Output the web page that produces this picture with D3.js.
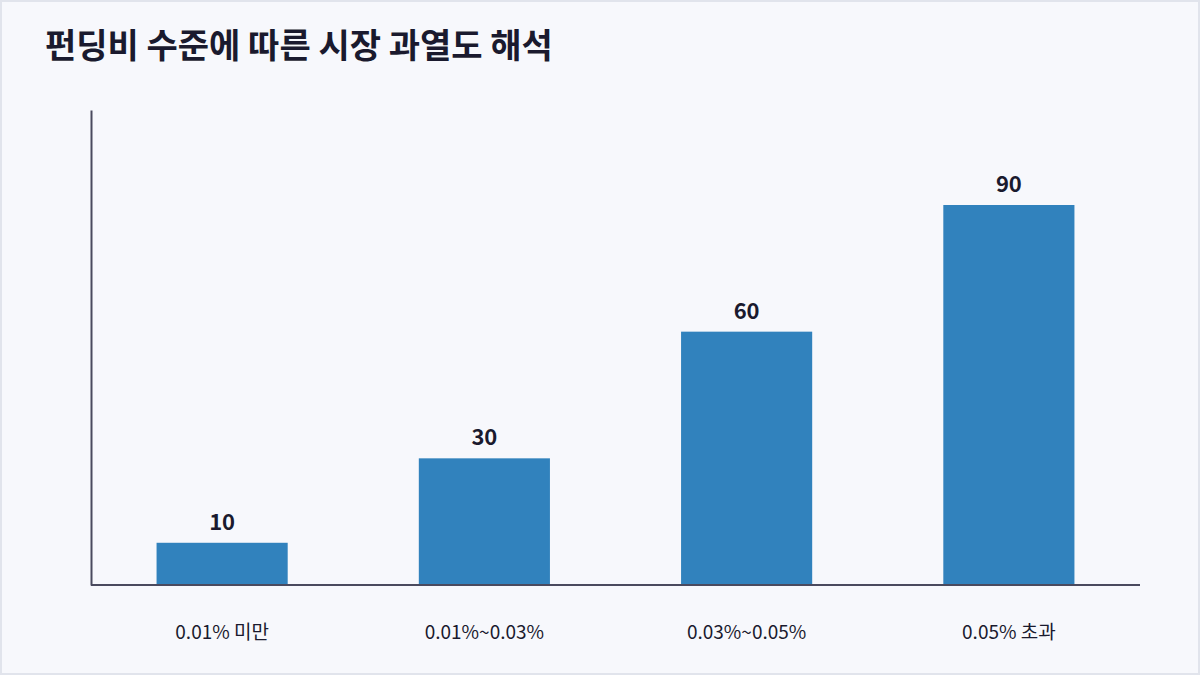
<!DOCTYPE html>
<html><head><meta charset="utf-8">
<script src="https://cdn.jsdelivr.net/npm/d3@7"></script>
<style>
html,body{margin:0;padding:0;background:#f7f8fc;}
svg{display:block;font-family:"Noto Sans CJK KR","Noto Sans",sans-serif;}
</style></head>
<body>
<svg id="c" width="1200" height="675"></svg>
<script>
const title = "펀딩비 수준에 따른 시장 과열도 해석";
const categories = ["0.01% 미만", "0.01%~0.03%", "0.03%~0.05%", "0.05% 초과"];
const values = [10, 30, 60, 90];

const svg = d3.select("#c");
const W = 1200, H = 675;
const m = {left: 91, right: 60, top: 110, bottom: 90};

svg.append("rect").attr("x",1).attr("y",1).attr("width",W-2).attr("height",H-2)
  .attr("fill","#f7f8fc").attr("stroke","#e1e4ec").attr("stroke-width",2);

svg.append("text").attr("x",45).attr("y",58).text(title)
  .attr("font-size",34).attr("font-weight",700).attr("fill","#1a1a2e");

const x = d3.scaleBand().domain(categories).range([m.left, W - m.right])
  .paddingInner(0.5).paddingOuter(0.25);
const y = d3.scaleLinear().domain([0, d3.max(values) * 1.25]).range([H - m.bottom, m.top]);

const data = categories.map((c,i)=>({c, v: values[i]}));

svg.selectAll("rect.bar").data(data).join("rect").attr("class","bar")
  .attr("x", d=>x(d.c)).attr("width", x.bandwidth())
  .attr("y", d=>y(d.v)).attr("height", d=>y(0)-y(d.v))
  .attr("fill","#3182bd");

svg.selectAll("text.val").data(data).join("text").attr("class","val")
  .attr("x", d=>x(d.c)+x.bandwidth()/2).attr("y", d=>y(d.v)-13)
  .attr("text-anchor","middle").attr("font-size",22).attr("font-weight",700)
  .attr("fill","#1a1a2e").text(d=>d.v);

const xAxis = svg.append("g").attr("transform",`translate(0,${y(0)})`)
  .call(d3.axisBottom(x).tickSize(0).tickPadding(0));
xAxis.select(".domain").attr("stroke","#4a4a5e").attr("stroke-width",2)
  .attr("d", `M${m.left},0H${W-m.right}`);
xAxis.selectAll(".tick text").attr("y",54).attr("dy",0).attr("font-size",19)
  .attr("fill","#1a1a2e").attr("font-family","\"Noto Sans CJK KR\",\"Noto Sans\",sans-serif");

const yAxis = svg.append("g").attr("transform",`translate(${m.left},0)`)
  .call(d3.axisLeft(y).tickValues([]).tickSize(0));
yAxis.select(".domain").attr("stroke","#4a4a5e").attr("stroke-width",2);
</script>
</body></html>
